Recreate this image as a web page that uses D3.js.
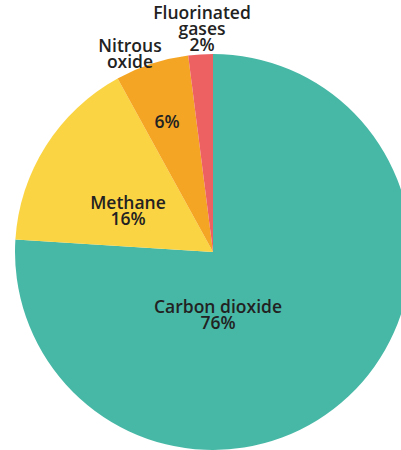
<!DOCTYPE html>
<html><head><meta charset="utf-8">
<script src="https://cdn.jsdelivr.net/npm/d3@7"></script>
<style>html,body{margin:0;padding:0;background:#fff;overflow:hidden}</style>
</head><body>
<svg id="c" width="401" height="450"></svg>
<script>
const categories = ["Carbon dioxide", "Methane", "Nitrous oxide", "Fluorinated gases"];
const values = [76, 16, 6, 2];
const colors = ["#48b8a6", "#fbd443", "#f5a524", "#ee6163"];

const svg = d3.select("#c");
const cx = 213, cy = 252, R = 198;
const g = svg.append("g").attr("transform", `translate(${cx},${cy})`);

const pie = d3.pie().sort(null).value(d => d.v);
const data = pie(categories.map((c, i) => ({c, v: values[i], i})));
const arc = d3.arc().innerRadius(0).outerRadius(R);

g.selectAll("path").data(data).enter().append("path")
  .attr("d", arc).attr("fill", d => colors[d.data.i]);

const fmt = v => v + "%";
const labels = [
  {lines: ["Carbon dioxide", fmt(values[0])], x: 218 - cx, y: 312.5 - cy},
  {lines: ["Methane", fmt(values[1])], x: 128 - cx, y: 209 - cy},
  {lines: [fmt(values[2])], x: 167 - cx, y: 128 - cy},
  {lines: ["Nitrous", "oxide"], x: 130 - cx, y: 52 - cy},
  {lines: ["Fluorinated", "gases", fmt(values[3])], x: 202 - cx, y: 19 - cy}
];
labels.forEach(l => {
  const t = g.append("text").attr("text-anchor", "middle")
    .attr("font-family", "'Open Sans', sans-serif").attr("font-size", 17.5)
    .attr("font-weight", 600).attr("fill", "#222");
  l.lines.forEach((s, k) => t.append("tspan").attr("x", l.x).attr("y", l.y + k * 16).text(s));
});
</script>
</body></html>
